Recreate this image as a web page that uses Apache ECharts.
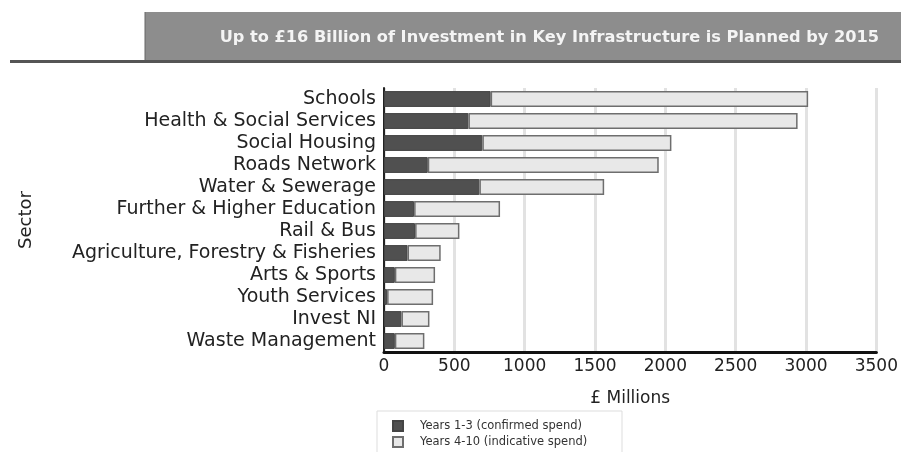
<!DOCTYPE html>
<html><head><meta charset="utf-8">
<script src="https://cdn.jsdelivr.net/npm/echarts@6/dist/echarts.min.js"></script>
<style>html,body{margin:0;padding:0;background:#fff}#c{width:901px;height:452px}</style>
</head><body><div id="c"></div>
<script>
var categories = ["Schools","Health & Social Services","Social Housing","Roads Network","Water & Sewerage","Further & Higher Education","Rail & Bus","Agriculture, Forestry & Fisheries","Arts & Sports","Youth Services","Invest NI","Waste Management"];
var years1to3 = [758, 600, 699, 311, 678, 214, 221, 167, 77, 22, 124, 77];
var years4to10 = [2257, 2340, 1344, 1642, 887, 611, 315, 236, 286, 327, 199, 210];
var seriesNames = ["Years 1-3 (confirmed spend)", "Years 4-10 (indicative spend)"];
var titleText = "Up to £16 Billion of Investment in Key Infrastructure is Planned by 2015";

var FONT = "DejaVu Sans";
var legendText = {fontSize: 11.5, color: '#333', fontFamily: FONT, padding: [0, 0, 0, 12]};
var chart = echarts.init(document.getElementById('c'));
chart.setOption({
  animation: false,
  textStyle: {fontFamily: FONT},
  title: {
    text: titleText, right: 17, top: 25,
    textStyle: {color: '#f4f4f4', fontWeight: 'bold', fontSize: 16.2, fontFamily: FONT}
  },
  graphic: [
    {type: 'rect', z: -1, shape: {x: 145, y: 12, width: 756, height: 49}, style: {fill: '#8d8d8d'}},
    {type: 'line', z: 0, shape: {x1: 145, y1: 12, x2: 145, y2: 61}, style: {stroke: '#666', lineWidth: 1}},
    {type: 'rect', z: 0, shape: {x: 10, y: 60, width: 891, height: 3}, style: {fill: '#555'}},
    {type: 'rect', z: 0, shape: {x: 377, y: 411, width: 245, height: 45}, style: {fill: '#fff', stroke: '#ddd', lineWidth: 1}}
  ],
  legend: [
    {left: 387, top: 415, itemWidth: 10, itemHeight: 10, textStyle: legendText,
     data: [{name: seriesNames[0], icon: 'rect'}]},
    {left: 387, top: 431, itemWidth: 10, itemHeight: 10, textStyle: legendText,
     data: [{name: seriesNames[1], icon: 'rect'}]}
  ],
  grid: {left: 384, right: 24, top: 88, bottom: 100, containLabel: false},
  xAxis: {
    type: 'value', min: 0, max: 3500, interval: 500,
    name: '£ Millions', nameLocation: 'middle', nameGap: 38,
    nameTextStyle: {fontSize: 17, color: '#222', fontFamily: FONT},
    axisLine: {show: true, lineStyle: {color: '#111', width: 3}},
    axisTick: {show: false},
    axisLabel: {fontSize: 17, color: '#222', margin: 6, fontFamily: FONT,
      formatter: function (v) { return String(v); }},
    splitLine: {show: true, lineStyle: {color: '#e2e2e2', width: 3}}
  },
  yAxis: {
    type: 'category', data: categories, inverse: true,
    name: 'Sector', nameLocation: 'middle', nameGap: 349, nameRotate: 90,
    nameTextStyle: {fontSize: 18, color: '#222', fontFamily: FONT},
    axisLine: {show: true, lineStyle: {color: '#222', width: 2}},
    axisTick: {show: false},
    axisLabel: {fontSize: 19, color: '#222', margin: 8, fontFamily: FONT, interval: 0, hideOverlap: false,
      padding: [3, 0, 0, 0]}
  },
  series: [
    {name: seriesNames[0], type: 'bar', stack: 't', data: years1to3, barWidth: '72%',
     itemStyle: {color: '#505050', borderColor: '#444', borderWidth: 1}},
    {name: seriesNames[1], type: 'bar', stack: 't', data: years4to10, barWidth: '72%',
     itemStyle: {color: '#e8e8e8', borderColor: '#6e6e6e', borderWidth: 1.5}}
  ]
});
</script></body></html>
